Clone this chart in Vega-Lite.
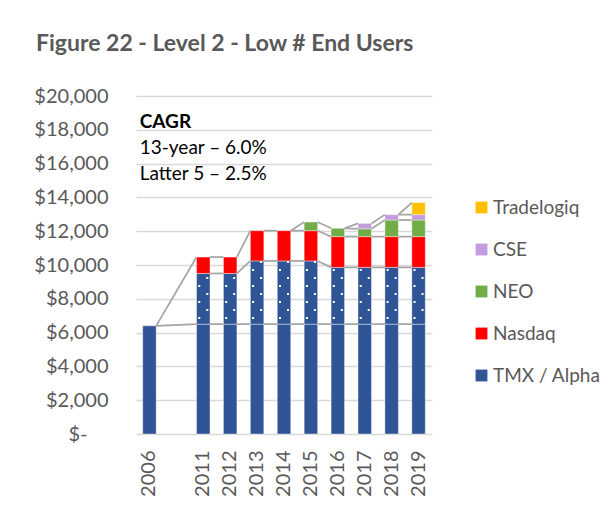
{
  "$schema": "https://vega.github.io/schema/vega-lite/v6.json",
  "width": 296,
  "height": 338,
  "autosize": {"type": "none"},
  "padding": {"left": 136, "top": 96, "right": 182, "bottom": 76},
  "background": "white",
  "title": {
    "text": "Figure 22 - Level 2 - Low # End Users",
    "anchor": "start",
    "frame": "group",
    "dx": -100,
    "offset": 12,
    "baseline": "alphabetic",
    "fontSize": 23,
    "font": "Lato",
    "fontWeight": "bold",
    "color": "#595959"
  },
  "config": {
    "view": {"stroke": null},
    "axis": {"labelFont": "Lato", "labelColor": "#595959", "labelFontSize": 20},
    "axisY": {"labelOverlap": false},
    "axisX": {"labelOverlap": false}
  },
  "datasets": {
    "bars": [
      {"year": "2006", "series": "TMX / Alpha", "part": "base", "k": 0, "value": 6400},
      {"year": "2011", "series": "TMX / Alpha", "part": "base", "k": 0, "value": 6500},
      {"year": "2011", "series": "TMX / Alpha", "part": "dot", "k": 1, "value": 3000},
      {"year": "2011", "series": "Nasdaq", "part": "main", "k": 2, "value": 970},
      {"year": "2012", "series": "TMX / Alpha", "part": "base", "k": 0, "value": 6500},
      {"year": "2012", "series": "TMX / Alpha", "part": "dot", "k": 1, "value": 3000},
      {"year": "2012", "series": "Nasdaq", "part": "main", "k": 2, "value": 970},
      {"year": "2013", "series": "TMX / Alpha", "part": "base", "k": 0, "value": 6500},
      {"year": "2013", "series": "TMX / Alpha", "part": "dot", "k": 1, "value": 3740},
      {"year": "2013", "series": "Nasdaq", "part": "main", "k": 2, "value": 1790},
      {"year": "2014", "series": "TMX / Alpha", "part": "base", "k": 0, "value": 6500},
      {"year": "2014", "series": "TMX / Alpha", "part": "dot", "k": 1, "value": 3740},
      {"year": "2014", "series": "Nasdaq", "part": "main", "k": 2, "value": 1790},
      {"year": "2015", "series": "TMX / Alpha", "part": "base", "k": 0, "value": 6500},
      {"year": "2015", "series": "TMX / Alpha", "part": "dot", "k": 1, "value": 3740},
      {"year": "2015", "series": "Nasdaq", "part": "main", "k": 2, "value": 1790},
      {"year": "2015", "series": "NEO", "part": "main", "k": 3, "value": 510},
      {"year": "2016", "series": "TMX / Alpha", "part": "base", "k": 0, "value": 6500},
      {"year": "2016", "series": "TMX / Alpha", "part": "dot", "k": 1, "value": 3360},
      {"year": "2016", "series": "Nasdaq", "part": "main", "k": 2, "value": 1820},
      {"year": "2016", "series": "NEO", "part": "main", "k": 3, "value": 490},
      {"year": "2017", "series": "TMX / Alpha", "part": "base", "k": 0, "value": 6500},
      {"year": "2017", "series": "TMX / Alpha", "part": "dot", "k": 1, "value": 3360},
      {"year": "2017", "series": "Nasdaq", "part": "main", "k": 2, "value": 1820},
      {"year": "2017", "series": "NEO", "part": "main", "k": 3, "value": 460},
      {"year": "2017", "series": "CSE", "part": "main", "k": 4, "value": 320},
      {"year": "2018", "series": "TMX / Alpha", "part": "base", "k": 0, "value": 6500},
      {"year": "2018", "series": "TMX / Alpha", "part": "dot", "k": 1, "value": 3360},
      {"year": "2018", "series": "Nasdaq", "part": "main", "k": 2, "value": 1820},
      {"year": "2018", "series": "NEO", "part": "main", "k": 3, "value": 980},
      {"year": "2018", "series": "CSE", "part": "main", "k": 4, "value": 320},
      {"year": "2019", "series": "TMX / Alpha", "part": "base", "k": 0, "value": 6500},
      {"year": "2019", "series": "TMX / Alpha", "part": "dot", "k": 1, "value": 3360},
      {"year": "2019", "series": "Nasdaq", "part": "main", "k": 2, "value": 1820},
      {"year": "2019", "series": "NEO", "part": "main", "k": 3, "value": 980},
      {"year": "2019", "series": "CSE", "part": "main", "k": 4, "value": 320},
      {"year": "2019", "series": "Tradelogiq", "part": "main", "k": 5, "value": 710}
    ],
    "lines": [
      {"from": "2006", "to": "2011", "a": 6400, "b": 6500},
      {"from": "2006", "to": "2011", "a": 6400, "b": 10470},
      {"from": "2011", "to": "2012", "a": 6500, "b": 6500},
      {"from": "2011", "to": "2012", "a": 9500, "b": 9500},
      {"from": "2011", "to": "2012", "a": 10470, "b": 10470},
      {"from": "2012", "to": "2013", "a": 6500, "b": 6500},
      {"from": "2012", "to": "2013", "a": 9500, "b": 10240},
      {"from": "2012", "to": "2013", "a": 10470, "b": 12030},
      {"from": "2013", "to": "2014", "a": 6500, "b": 6500},
      {"from": "2013", "to": "2014", "a": 10240, "b": 10240},
      {"from": "2013", "to": "2014", "a": 12030, "b": 12030},
      {"from": "2014", "to": "2015", "a": 6500, "b": 6500},
      {"from": "2014", "to": "2015", "a": 10240, "b": 10240},
      {"from": "2014", "to": "2015", "a": 12030, "b": 12030},
      {"from": "2014", "to": "2015", "a": 12030, "b": 12540},
      {"from": "2015", "to": "2016", "a": 6500, "b": 6500},
      {"from": "2015", "to": "2016", "a": 10240, "b": 9860},
      {"from": "2015", "to": "2016", "a": 12030, "b": 11680},
      {"from": "2015", "to": "2016", "a": 12540, "b": 12170},
      {"from": "2016", "to": "2017", "a": 6500, "b": 6500},
      {"from": "2016", "to": "2017", "a": 9860, "b": 9860},
      {"from": "2016", "to": "2017", "a": 11680, "b": 11680},
      {"from": "2016", "to": "2017", "a": 12170, "b": 12140},
      {"from": "2016", "to": "2017", "a": 12170, "b": 12460},
      {"from": "2017", "to": "2018", "a": 6500, "b": 6500},
      {"from": "2017", "to": "2018", "a": 9860, "b": 9860},
      {"from": "2017", "to": "2018", "a": 11680, "b": 11680},
      {"from": "2017", "to": "2018", "a": 12140, "b": 12660},
      {"from": "2017", "to": "2018", "a": 12460, "b": 12980},
      {"from": "2018", "to": "2019", "a": 6500, "b": 6500},
      {"from": "2018", "to": "2019", "a": 9860, "b": 9860},
      {"from": "2018", "to": "2019", "a": 11680, "b": 11680},
      {"from": "2018", "to": "2019", "a": 12660, "b": 12660},
      {"from": "2018", "to": "2019", "a": 12980, "b": 12980},
      {"from": "2018", "to": "2019", "a": 12980, "b": 13690}
    ],
    "notes": [
      {"note": "CAGR"},
      {"note": "13-year – 6.0%"},
      {"note": "Latter 5 – 2.5%"}
    ]
  },
  "layer": [
    {
      "data": {"name": "bars"},
      "transform": [
        {"stack": "value", "groupby": ["year"], "sort": [{"field": "k", "order": "ascending"}], "as": ["v0", "v1"]}
      ],
      "mark": {"type": "bar", "stroke": "#ffffff", "strokeWidth": 0.75, "strokeOpacity": 0.5},
      "encoding": {
        "x": {
          "field": "year",
          "type": "nominal",
          "scale": {
            "type": "band",
            "domain": ["2006", " ", "2011", "2012", "2013", "2014", "2015", "2016", "2017", "2018", "2019"],
            "paddingInner": 0.5,
            "paddingOuter": 0.25
          },
          "axis": {"title": null, "labelAngle": -90, "labelPadding": 16, "ticks": false, "domain": false, "grid": false, "labelOverlap": false}
        },
        "y": {
          "field": "v0",
          "type": "quantitative",
          "scale": {"domain": [0, 20000]},
          "axis": {
            "title": null,
            "values": [0, 2000, 4000, 6000, 8000, 10000, 12000, 14000, 16000, 18000, 20000],
            "tickCount": 11,
            "labelExpr": "datum.value == 0 ? '$-' : '$' + format(datum.value, ',')",
            "labelOverlap": false,
            "labelFlush": false,
            "grid": true,
            "gridColor": "#D9D9D9",
            "gridWidth": 1.5,
            "ticks": false,
            "domain": false,
            "labelPadding": {"condition": {"test": "datum.value == 0", "value": 49}, "value": 28}
          }
        },
        "y2": {"field": "v1"},
        "color": {
          "field": "series",
          "type": "nominal",
          "scale": {
            "domain": ["Tradelogiq", "CSE", "NEO", "Nasdaq", "TMX / Alpha"],
            "range": ["#FFC000", "#C49BDE", "#70AD47", "#FF0000", "#2F5597"]
          },
          "legend": {
            "orient": "none",
            "legendX": 336,
            "legendY": 102,
            "title": null,
            "padding": 0,
            "symbolType": "square",
            "symbolSize": 140,
            "symbolStrokeWidth": 0,
            "labelFont": "Lato",
            "labelFontSize": 19,
            "labelColor": "#595959",
            "labelOffset": 2,
            "rowPadding": 22
          }
        }
      }
    },
    {
      "data": {"name": "bars"},
      "transform": [
        {"stack": "value", "groupby": ["year"], "sort": [{"field": "k", "order": "ascending"}], "as": ["v0", "v1"]},
        {"filter": "datum.part == 'dot'"}
      ],
      "mark": {"type": "rule", "color": "#ffffff", "strokeWidth": 2, "strokeDash": [2, 14], "strokeDashOffset": 10.8, "strokeCap": "butt", "xOffset": -4},
      "encoding": {
        "x": {"field": "year", "type": "nominal"},
        "y": {"field": "v0", "type": "quantitative"},
        "y2": {"field": "v1"}
      }
    },
    {
      "data": {"name": "bars"},
      "transform": [
        {"stack": "value", "groupby": ["year"], "sort": [{"field": "k", "order": "ascending"}], "as": ["v0", "v1"]},
        {"filter": "datum.part == 'dot'"}
      ],
      "mark": {"type": "rule", "color": "#ffffff", "strokeWidth": 2, "strokeDash": [2, 14], "strokeDashOffset": 2.8, "strokeCap": "butt", "xOffset": 4},
      "encoding": {
        "x": {"field": "year", "type": "nominal"},
        "y": {"field": "v0", "type": "quantitative"},
        "y2": {"field": "v1"}
      }
    },
    {
      "data": {"name": "lines"},
      "mark": {"type": "rule", "color": "#A5A5A5", "strokeWidth": 1.75},
      "encoding": {
        "x": {"field": "from", "type": "nominal", "bandPosition": 1},
        "x2": {"field": "to", "bandPosition": 0},
        "y": {"field": "a", "type": "quantitative"},
        "y2": {"field": "b"}
      }
    },
    {
      "data": {"name": "notes"},
      "transform": [{"filter": "datum.note == 'CAGR'"}],
      "mark": {"type": "text", "align": "left", "baseline": "middle", "font": "Lato", "fontSize": 19, "fontWeight": "bold", "color": "#000000", "dx": -3},
      "encoding": {
        "x": {"datum": "2006", "bandPosition": 0},
        "y": {"datum": 18460},
        "text": {"field": "note"}
      }
    },
    {
      "data": {"name": "notes"},
      "transform": [{"filter": "datum.note == '13-year – 6.0%'"}],
      "mark": {"type": "text", "align": "left", "baseline": "middle", "font": "Lato", "fontSize": 19, "color": "#000000", "dx": -3},
      "encoding": {
        "x": {"datum": "2006", "bandPosition": 0},
        "y": {"datum": 16920},
        "text": {"field": "note"}
      }
    },
    {
      "data": {"name": "notes"},
      "transform": [{"filter": "datum.note == 'Latter 5 – 2.5%'"}],
      "mark": {"type": "text", "align": "left", "baseline": "middle", "font": "Lato", "fontSize": 19, "color": "#000000", "dx": -3},
      "encoding": {
        "x": {"datum": "2006", "bandPosition": 0},
        "y": {"datum": 15383},
        "text": {"field": "note"}
      }
    }
  ]
}
